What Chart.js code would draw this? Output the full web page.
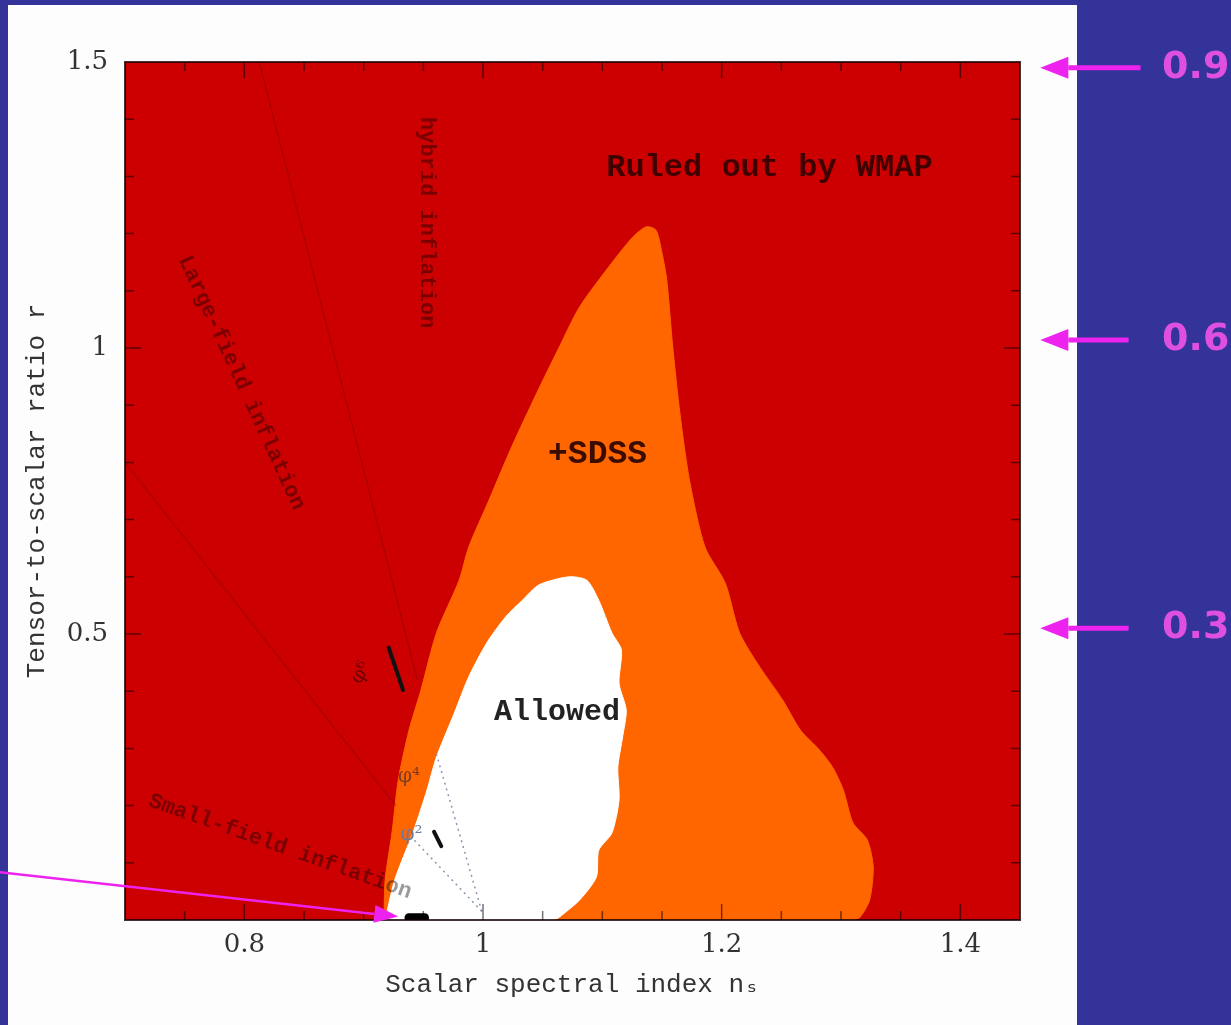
<!DOCTYPE html>
<html>
<head>
<meta charset="utf-8">
<script src="https://cdn.jsdelivr.net/npm/chart.js@4.4.0/dist/chart.umd.min.js"></script>
<style>
  html, body { margin: 0; padding: 0; background: #333399; }
  canvas { display: block; }
</style>
</head>
<body>
<canvas id="wmapChart" width="1231" height="1025"></canvas>
<script>
// axis ticks
const xTicks = [0.8, 1, 1.2, 1.4];
const yTicks = [0.5, 1, 1.5];
const xMinor = [0.75, 0.8, 0.85, 0.9, 0.95, 1, 1.05, 1.1, 1.15, 1.2, 1.25, 1.3, 1.35, 1.4];
const yMinor = [0.1, 0.2, 0.3, 0.4, 0.5, 0.6, 0.7, 0.8, 0.9, 1, 1.1, 1.2, 1.3, 1.4];

// WMAP+SDSS region (orange), traced outline
const sdssNs = [0.917, 0.918, 0.924, 0.929, 0.938, 0.948, 0.961, 0.980, 0.988, 1.005, 1.024, 1.045, 1.064, 1.081, 1.108, 1.126, 1.137, 1.145, 1.150, 1.154, 1.159, 1.165, 1.173, 1.186, 1.203, 1.215, 1.232, 1.251, 1.266, 1.282, 1.293, 1.302, 1.310, 1.322, 1.327, 1.324, 1.316, 1.310];
const sdssR  = [0, 0.070, 0.157, 0.245, 0.332, 0.402, 0.502, 0.594, 0.652, 0.734, 0.827, 0.921, 1.002, 1.072, 1.149, 1.195, 1.212, 1.206, 1.166, 1.119, 1.002, 0.886, 0.769, 0.652, 0.589, 0.502, 0.442, 0.385, 0.332, 0.297, 0.267, 0.227, 0.170, 0.140, 0.093, 0.035, 0.005, 0];

// allowed region (white)
const allowedNs = [0.918, 0.926, 0.942, 0.953, 0.961, 0.976, 0.988, 1.003, 1.019, 1.033, 1.047, 1.072, 1.087, 1.097, 1.108, 1.116, 1.114, 1.120, 1.117, 1.113, 1.114, 1.108, 1.097, 1.095, 1.081, 1.064, 1.060];
const allowedR  = [0, 0.070, 0.157, 0.227, 0.285, 0.362, 0.425, 0.484, 0.530, 0.559, 0.586, 0.600, 0.594, 0.559, 0.502, 0.472, 0.414, 0.367, 0.320, 0.267, 0.210, 0.152, 0.122, 0.075, 0.035, 0.005, 0];

// faint class boundaries in the excluded zone
const upperBoundNs = [0.8125, 0.945];
const upperBoundR  = [1.5, 0.42];
const lowerBoundNs = [0.70, 0.927];
const lowerBoundR  = [0.80, 0.20];

// model predictions (black ticks) and guide lines
const phi6Ns = [0.921, 0.933];
const phi6R  = [0.476, 0.402];
const phi2Ns = [0.959, 0.965];
const phi2R  = [0.154, 0.129];
const blobNs = [0.938, 0.951];
const blobR  = [0.004, 0.004];
const guideANs = [0.999, 0.961];
const guideAR  = [0.015, 0.290];
const guideBNs = [0.999, 0.940];
const guideBR  = [0.015, 0.145];

// pointer arrows
const arrowR = [1.49, 1.014, 0.51];
const arrowTail = [1.551, 1.541, 1.541];
const arrowText = ['0.9', '0.6', '0.3'];
const pointerNs = [0.593, 0.929];
const pointerR  = [0.084, 0.006];

const pts = (xs, ys) => xs.map((v, i) => ({ x: v, y: ys[i] }));

const mono = '"Liberation Mono", "DejaVu Sans Mono", monospace';
const notes = [
  { text: 'Ruled out by WMAP', ns: 1.240, r: 1.315, font: 'bold 32px ' + mono, color: 'rgba(30,0,0,0.8)', angle: 0 },
  { text: '+SDSS', ns: 1.096, r: 0.813, font: 'bold 33px ' + mono, color: '#3a0d00', angle: 0 },
  { text: 'Allowed', ns: 1.062, r: 0.362, font: 'bold 30px ' + mono, color: '#222', angle: 0 },
  { text: 'hybrid inflation', ns: 0.953, r: 1.219, font: 'bold 22px ' + mono, color: 'rgba(0,0,0,0.4)', angle: 90 },
  { text: 'Large-field inflation', ns: 0.7975, r: 0.939, font: 'bold 22px ' + mono, color: 'rgba(0,0,0,0.4)', angle: 65.4 },
  { text: 'Small-field inflation', ns: 0.830, r: 0.128, font: 'bold 22px ' + mono, color: 'rgba(0,0,0,0.4)', angle: 19.5 },
  { text: 'φ⁶', ns: 0.898, r: 0.432, font: '20px "DejaVu Serif", serif', color: 'rgba(0,0,0,0.45)', angle: -60 },
  { text: 'φ⁴', ns: 0.938, r: 0.250, font: '20px "DejaVu Serif", serif', color: 'rgba(40,30,60,0.6)', angle: 0 },
  { text: 'φ²', ns: 0.940, r: 0.149, font: '20px "DejaVu Serif", serif', color: '#6a7aa0', angle: 0 }
];

function arrow(ctx, x0, y0, x1, y1, head, halfW, width, color) {
  const ang = Math.atan2(y1 - y0, x1 - x0);
  const bx = x1 - head * Math.cos(ang), by = y1 - head * Math.sin(ang);
  ctx.strokeStyle = color;
  ctx.lineWidth = width;
  ctx.beginPath(); ctx.moveTo(x0, y0); ctx.lineTo(bx, by); ctx.stroke();
  ctx.fillStyle = color;
  ctx.beginPath();
  ctx.moveTo(x1, y1);
  ctx.lineTo(bx + halfW * Math.sin(ang), by - halfW * Math.cos(ang));
  ctx.lineTo(bx - halfW * Math.sin(ang), by + halfW * Math.cos(ang));
  ctx.closePath(); ctx.fill();
}

const framePlugin = {
  id: 'frame',
  beforeDraw(chart) {
    const { ctx, chartArea: a } = chart;
    ctx.save();
    ctx.fillStyle = '#333399';
    ctx.fillRect(0, 0, chart.width, chart.height);
    ctx.fillStyle = '#fdfdfd';
    ctx.fillRect(8, 5, 1069, 1020);
    ctx.fillStyle = '#cc0000';
    ctx.fillRect(a.left, a.top, a.right - a.left, a.bottom - a.top);
    ctx.restore();
  },
  afterDatasetsDraw(chart) {
    const { ctx, chartArea: a, scales: { x, y } } = chart;
    ctx.save();
    // inward ticks on all four sides
    ctx.strokeStyle = 'rgba(0,0,0,0.55)';
    ctx.lineWidth = 1.5;
    ctx.beginPath();
    xMinor.forEach(v => {
      const px = x.getPixelForValue(v);
      const len = xTicks.includes(v) ? 16 : 9;
      ctx.moveTo(px, a.bottom); ctx.lineTo(px, a.bottom - len);
      ctx.moveTo(px, a.top); ctx.lineTo(px, a.top + len);
    });
    yMinor.forEach(v => {
      const py = y.getPixelForValue(v);
      const len = yTicks.includes(v) ? 16 : 9;
      ctx.moveTo(a.left, py); ctx.lineTo(a.left + len, py);
      ctx.moveTo(a.right, py); ctx.lineTo(a.right - len, py);
    });
    ctx.stroke();
    ctx.strokeStyle = 'rgba(20,0,0,0.8)';
    ctx.lineWidth = 2;
    ctx.strokeRect(a.left, a.top, a.right - a.left, a.bottom - a.top);

    // text labels
    notes.forEach(n => {
      ctx.save();
      ctx.translate(x.getPixelForValue(n.ns), y.getPixelForValue(n.r));
      ctx.rotate(n.angle * Math.PI / 180);
      ctx.font = n.font;
      ctx.fillStyle = n.color;
      ctx.textAlign = 'center';
      ctx.textBaseline = 'middle';
      ctx.fillText(n.text, 0, 0);
      ctx.restore();
    });

    // magenta pointer arrows
    arrow(ctx, x.getPixelForValue(pointerNs[0]), y.getPixelForValue(pointerR[0]),
      x.getPixelForValue(pointerNs[1]), y.getPixelForValue(pointerR[1]), 24, 9, 2.5, '#ee22ee');
    arrowR.forEach((r, i) => {
      const py = y.getPixelForValue(r);
      arrow(ctx, x.getPixelForValue(arrowTail[i]), py, x.getPixelForValue(1.467), py, 28, 11, 5, '#ee22ee');
      ctx.font = 'bold 38px "DejaVu Sans", sans-serif';
      ctx.fillStyle = '#e050e0';
      ctx.textAlign = 'left';
      ctx.textBaseline = 'middle';
      ctx.fillText(arrowText[i], x.getPixelForValue(1.569), py);
    });
    ctx.restore();
  }
};

const lineSet = (xs, ys, color, width, extra) => Object.assign({
  data: pts(xs, ys), showLine: true, fill: false, borderColor: color,
  borderWidth: width, pointRadius: 0, tension: 0, order: 2
}, extra || {});

new Chart(document.getElementById('wmapChart'), {
  type: 'scatter',
  data: {
    datasets: [
      { data: pts(sdssNs, sdssR), showLine: true, fill: 'shape', backgroundColor: '#ff6600',
        borderColor: '#ff6600', borderWidth: 1, pointRadius: 0, tension: 0.25, order: 10 },
      { data: pts(allowedNs, allowedR), showLine: true, fill: 'shape', backgroundColor: '#ffffff',
        borderColor: '#ffffff', borderWidth: 1, pointRadius: 0, tension: 0.25, order: 9 },
      lineSet(upperBoundNs, upperBoundR, 'rgba(110,0,0,0.35)', 1.2),
      lineSet(lowerBoundNs, lowerBoundR, 'rgba(110,0,0,0.35)', 1.2),
      lineSet(guideANs, guideAR, '#8a96b0', 1.5, { borderDash: [2, 4] }),
      lineSet(guideBNs, guideBR, '#8a96b0', 1.5, { borderDash: [2, 4] }),
      lineSet(phi6Ns, phi6R, '#111', 4, { borderCapStyle: 'round', order: 1 }),
      lineSet(phi2Ns, phi2R, '#111', 4, { borderCapStyle: 'round', order: 1 }),
      lineSet(blobNs, blobR, '#000', 9, { borderCapStyle: 'round', order: 1 })
    ]
  },
  options: {
    responsive: false,
    animation: false,
    layout: { padding: { top: 62, right: 211, left: 0, bottom: 0 } },
    plugins: { legend: { display: false }, tooltip: { enabled: false } },
    scales: {
      x: {
        type: 'linear', min: 0.7, max: 1.45,
        grid: { display: false, drawTicks: false },
        border: { display: false },
        afterBuildTicks: s => { s.ticks = xTicks.map(v => ({ value: v })); },
        afterFit: s => { s.height = 105; },
        ticks: { padding: 10, color: '#333', autoSkip: false, maxRotation: 0,
          font: { family: '"DejaVu Serif", serif', size: 26 }, callback: v => String(v) },
        title: { display: true, text: 'Scalar spectral index nₛ', color: '#333',
          font: { family: mono, size: 26 }, padding: { top: 0, bottom: 24 } }
      },
      y: {
        type: 'linear', min: 0, max: 1.5,
        grid: { display: false, drawTicks: false },
        border: { display: false },
        afterBuildTicks: s => { s.ticks = yTicks.map(v => ({ value: v })); },
        afterFit: s => { s.width = 125; },
        ticks: { padding: 17, color: '#333', autoSkip: false,
          font: { family: '"DejaVu Serif", serif', size: 26 }, callback: v => String(v) },
        title: { display: true, text: 'Tensor-to-scalar ratio r', color: '#333',
          font: { family: mono, size: 26 }, padding: { top: 22, bottom: 0 } }
      }
    }
  },
  plugins: [framePlugin]
});
</script>
</body>
</html>
